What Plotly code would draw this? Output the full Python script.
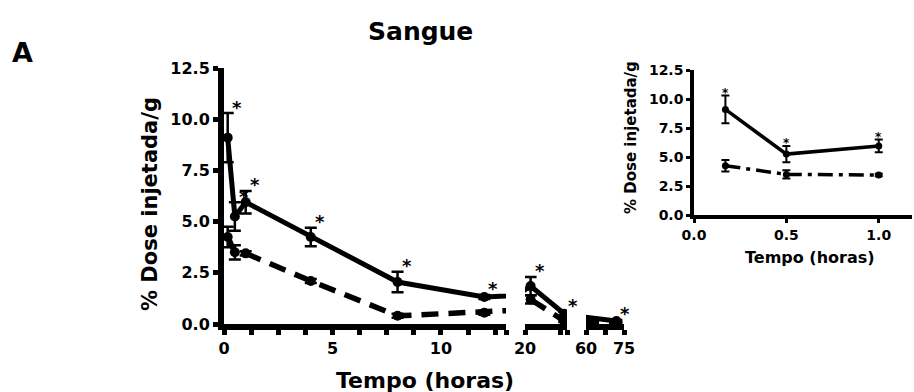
import plotly.graph_objects as go

W, H = 914, 392
FONT = "DejaVu Sans"

# Sampling times (hours) and % injected dose per gram in blood
time_h = [0.17, 0.5, 1, 4, 8, 12, 24, 48, 72]
solid_mean = [9.1, 5.25, 5.95, 4.25, 2.05, 1.32, 1.85, 0.5, 0.15]
solid_sem = [1.2, 0.7, 0.55, 0.45, 0.5, 0.1, 0.45, 0.1, 0.05]
dashed_mean = [4.25, 3.5, 3.45, 2.1, 0.4, 0.55, 1.2, 0.15, 0.05]
dashed_sem = [0.5, 0.35, 0.1, 0.1, 0.1, 0.1, 0.2, 0.05, 0.02]
significant = [True, True, True, True, True, True, True, True, True]

y_ticks = [0, 2.5, 5, 7.5, 10, 12.5]
y_ticklabels = ["0.0", "2.5", "5.0", "7.5", "10.0", "12.5"]

# Broken time axis: range, tick positions, tick labels for each piece
seg_ranges = [[0, 13], [20, 50], [60, 75]]
seg_tickvals = [
    [0, 1.25, 2.5, 3.75, 5, 6.25, 7.5, 8.75, 10, 11.25, 12.5, 13],
    [20, 45, 50],
    [60, 67.5, 75],
]
seg_ticktext = [
    ["0", "", "", "", "5", "", "", "", "10", "", "", ""],
    ["20", "", ""],
    ["60", "", "75"],
]

# Inset (first hour)
inset_xticks = [0, 0.5, 1.0]
inset_xticklabels = ["0.0", "0.5", "1.0"]
inset_max_t = 1.0


def px(x):
    return x / W


def py(y):
    return 1 - y / H


seg_px = [(224, 506), (525, 567), (586, 624)]
axis_ids = ["x", "x2", "x3"]

fig = go.Figure()

tickfont_main = dict(family=FONT, size=16, color="black", weight="bold")
tickfont_inset = dict(family=FONT, size=14, color="black", weight="bold")

common = dict(showgrid=False, zeroline=False, automargin=False, tickmode="array",
              linecolor="black", tickcolor="black", showline=True, ticks="outside")

for i, (rng, tv, tt, (p0, p1)) in enumerate(zip(seg_ranges, seg_tickvals, seg_ticktext, seg_px)):
    name = "xaxis" if i == 0 else f"xaxis{i + 1}"
    fig.update_layout(**{name: dict(
        domain=[px(p0), px(p1)], range=rng, anchor="y",
        tickvals=tv, ticktext=tt, linewidth=6, ticklen=5, tickwidth=5,
        tickfont=tickfont_main, **common,
    )})

fig.update_layout(yaxis=dict(
    domain=[py(324), py(68)], range=[0, 12.5], anchor="x",
    tickvals=y_ticks, ticktext=y_ticklabels, linewidth=6, ticklen=5, tickwidth=5,
    tickfont=tickfont_main, **common,
))

for ax in axis_ids:
    fig.add_trace(go.Scatter(
        x=time_h, y=dashed_mean, xaxis=ax, yaxis="y", mode="lines+markers",
        line=dict(color="black", width=5.5, dash="17px,10px"),
        marker=dict(size=10, color="black"),
        error_y=dict(type="data", array=dashed_sem, color="black", thickness=2.5, width=6),
        showlegend=False,
    ))
    fig.add_trace(go.Scatter(
        x=time_h, y=solid_mean, xaxis=ax, yaxis="y", mode="lines+markers",
        line=dict(color="black", width=5),
        marker=dict(size=10, color="black"),
        error_y=dict(type="data", array=solid_sem, color="black", thickness=2.5, width=6),
        showlegend=False,
    ))

annotations = []


def seg_of(t):
    for ax, rng in zip(axis_ids, seg_ranges):
        if rng[0] <= t <= rng[1]:
            return ax
    return None


for t, m, s, sig in zip(time_h, solid_mean, solid_sem, significant):
    ax = seg_of(t)
    if sig and ax:
        annotations.append(dict(
            x=t, y=m + s, xref=ax, yref="y", text="*", showarrow=False,
            xanchor="center", yanchor="middle", xshift=9, yshift=6,
            font=dict(family=FONT, size=18, color="black", weight="bold"),
        ))

# Inset axes
fig.update_layout(
    xaxis4=dict(
        domain=[px(694), px(912)], range=[0, 1.18], anchor="y4",
        tickvals=inset_xticks, ticktext=inset_xticklabels,
        linewidth=3.5, ticklen=4, tickwidth=3, tickfont=tickfont_inset, **common,
    ),
    yaxis4=dict(
        domain=[py(215), py(70)], range=[0, 12.5], anchor="x4",
        tickvals=y_ticks, ticktext=y_ticklabels,
        linewidth=3.5, ticklen=4, tickwidth=3, tickfont=tickfont_inset, **common,
    ),
)

idx = [i for i, t in enumerate(time_h) if t <= inset_max_t]
it = [time_h[i] for i in idx]
fig.add_trace(go.Scatter(
    x=it, y=[dashed_mean[i] for i in idx], xaxis="x4", yaxis="y4", mode="lines+markers",
    line=dict(color="black", width=3.5, dash="15px,6px,4px,6px"),
    marker=dict(size=7, color="black"),
    error_y=dict(type="data", array=[dashed_sem[i] for i in idx], color="black", thickness=2, width=4),
    showlegend=False,
))
fig.add_trace(go.Scatter(
    x=it, y=[solid_mean[i] for i in idx], xaxis="x4", yaxis="y4", mode="lines+markers",
    line=dict(color="black", width=3.5),
    marker=dict(size=7, color="black"),
    error_y=dict(type="data", array=[solid_sem[i] for i in idx], color="black", thickness=2, width=4),
    showlegend=False,
))
for i in idx:
    if significant[i]:
        annotations.append(dict(
            x=time_h[i], y=solid_mean[i] + solid_sem[i], xref="x4", yref="y4", text="*",
            showarrow=False, xanchor="center", yanchor="middle", yshift=3,
            font=dict(family=FONT, size=12, color="black", weight="bold"),
        ))

bold = dict(family=FONT, color="black", weight="bold")
annotations += [
    dict(x=px(420), y=py(31), xref="paper", yref="paper", text="Sangue", showarrow=False,
         xanchor="center", yanchor="middle", font=dict(size=25, **bold)),
    dict(x=px(22), y=py(52), xref="paper", yref="paper", text="A", showarrow=False,
         xanchor="center", yanchor="middle", font=dict(size=27, **bold)),
    dict(x=px(425), y=py(380), xref="paper", yref="paper", text="Tempo (horas)", showarrow=False,
         xanchor="center", yanchor="middle", font=dict(size=22, **bold)),
    dict(x=px(150), y=py(204), xref="paper", yref="paper", text="% Dose injetada/g", showarrow=False,
         xanchor="center", yanchor="middle", textangle=-90, font=dict(size=21, **bold)),
    dict(x=px(810), y=py(257), xref="paper", yref="paper", text="Tempo (horas)", showarrow=False,
         xanchor="center", yanchor="middle", font=dict(size=16, **bold)),
    dict(x=px(631), y=py(138), xref="paper", yref="paper", text="% Dose injetada/g", showarrow=False,
         xanchor="center", yanchor="middle", textangle=-90, font=dict(size=15, **bold)),
]

fig.update_layout(
    template="none",
    width=W, height=H, margin=dict(l=0, r=0, t=0, b=0, pad=0),
    paper_bgcolor="white", plot_bgcolor="white",
    annotations=annotations, showlegend=False,
)

fig.write_html("out.html")
